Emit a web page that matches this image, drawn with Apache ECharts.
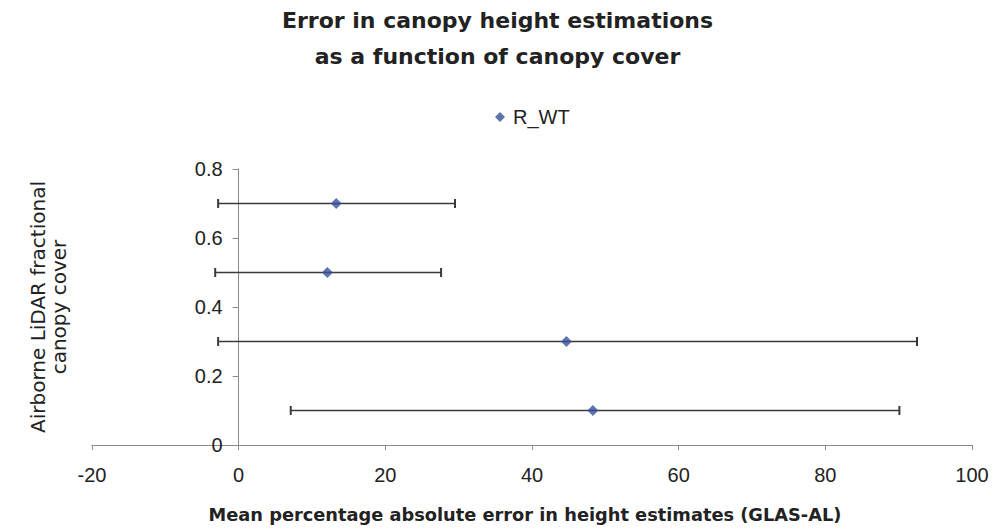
<!DOCTYPE html>
<html>
<head>
<meta charset="utf-8">
<script src="https://cdn.jsdelivr.net/npm/echarts@6/dist/echarts.min.js"></script>
<style>
html,body{margin:0;padding:0;background:#fff;}
#chart{width:995px;height:531px;}
</style>
</head>
<body>
<div id="chart"></div>
<script>
// Data
const seriesName = 'R_WT';
const canopyCover = [0.7, 0.5, 0.3, 0.1];
const meanError = [13.3, 12.1, 44.7, 48.3];
const errorLow = [-2.8, -3.2, -2.8, 7.1];
const errorHigh = [29.5, 27.6, 92.5, 90.1];
const xTickMin = -20, xTickMax = 100, xTickStep = 20;
const yTickMin = 0, yTickMax = 0.8, yTickStep = 0.2;

const titleText = 'Error in canopy height estimations\nas a function of canopy cover';
const xTitle = 'Mean percentage absolute error in height estimates (GLAS-AL)';
const yTitle = 'Airborne LiDAR fractional\ncanopy cover';

const chart = echarts.init(document.getElementById('chart'), null, {renderer: 'svg'});

const pointData = canopyCover.map((c, i) => [meanError[i], c]);
const barData = canopyCover.map((c, i) => [c, errorLow[i], errorHigh[i]]);

const axisColor = '#8a8a8a';
const textColor = '#222';
const gridLeft = 92, gridRight = 23;
const plotWidth = 995 - gridLeft - gridRight;
// the vertical axis crosses the horizontal one at x = 0
const yAxisOffset = -plotWidth * (0 - xTickMin) / (xTickMax - xTickMin);

chart.setOption({
  backgroundColor: '#ffffff',
  animation: false,
  title: {
    text: titleText,
    left: 'center',
    top: -3,
    textStyle: {
      fontFamily: 'DejaVu Sans',
      fontWeight: 'bold',
      fontSize: 22,
      lineHeight: 36,
      color: textColor
    }
  },
  legend: {
    data: [{name: seriesName, icon: 'diamond'}],
    left: 490,
    top: 102,
    itemWidth: 10,
    itemHeight: 10,
    textStyle: {
      fontFamily: 'Liberation Sans',
      fontSize: 20,
      color: textColor,
      padding: [0, 0, 0, 3]
    }
  },
  grid: {left: gridLeft, right: gridRight, top: 169, bottom: 86},
  xAxis: {
    type: 'value',
    min: xTickMin,
    max: xTickMax,
    interval: xTickStep,
    axisLine: {show: true, onZero: false, lineStyle: {color: axisColor, width: 1}},
    axisTick: {show: true, inside: false, length: 5, lineStyle: {color: axisColor}},
    axisLabel: {
      margin: 20,
      fontFamily: 'Liberation Sans',
      fontSize: 20,
      color: textColor
    },
    splitLine: {show: false}
  },
  yAxis: {
    type: 'value',
    min: yTickMin,
    max: yTickMax,
    interval: yTickStep,
    offset: yAxisOffset,
    axisLine: {show: true, onZero: false, lineStyle: {color: axisColor, width: 1}},
    axisTick: {show: true, inside: false, length: 6, lineStyle: {color: axisColor}},
    axisLabel: {
      margin: 16,
      fontFamily: 'Liberation Sans',
      fontSize: 20,
      color: textColor
    },
    splitLine: {show: false}
  },
  graphic: [{
    type: 'text',
    x: 48,
    y: 307,
    rotation: Math.PI / 2,
    style: {
      text: yTitle,
      font: '20px "DejaVu Sans"',
      fill: textColor,
      textAlign: 'center',
      textVerticalAlign: 'middle',
      lineHeight: 21
    }
  }, {
    type: 'text',
    x: 525,
    y: 514,
    style: {
      text: xTitle,
      font: 'bold 17.8px "DejaVu Sans"',
      fill: textColor,
      textAlign: 'center',
      textVerticalAlign: 'middle'
    }
  }],
  series: [
    {
      name: 'errorbars',
      type: 'custom',
      data: barData,
      encode: {x: [1, 2], y: 0},
      z: 2,
      silent: true,
      renderItem: function (params, api) {
        const y = api.value(0);
        const p1 = api.coord([api.value(1), y]);
        const p2 = api.coord([api.value(2), y]);
        const h = 4.5;
        const st = {stroke: '#3a3a3a', lineWidth: 1.6};
        return {
          type: 'group',
          children: [
            {type: 'line', shape: {x1: p1[0], y1: p1[1], x2: p2[0], y2: p2[1]}, style: st},
            {type: 'line', shape: {x1: p1[0], y1: p1[1] - h, x2: p1[0], y2: p1[1] + h}, style: {stroke: '#3a3a3a', lineWidth: 2}},
            {type: 'line', shape: {x1: p2[0], y1: p2[1] - h, x2: p2[0], y2: p2[1] + h}, style: {stroke: '#3a3a3a', lineWidth: 2}}
          ]
        };
      }
    },
    {
      name: seriesName,
      type: 'scatter',
      data: pointData,
      symbol: 'diamond',
      symbolSize: [11, 11],
      z: 5,
      itemStyle: {color: '#33509a'}
    }
  ]
});
</script>
</body>
</html>
